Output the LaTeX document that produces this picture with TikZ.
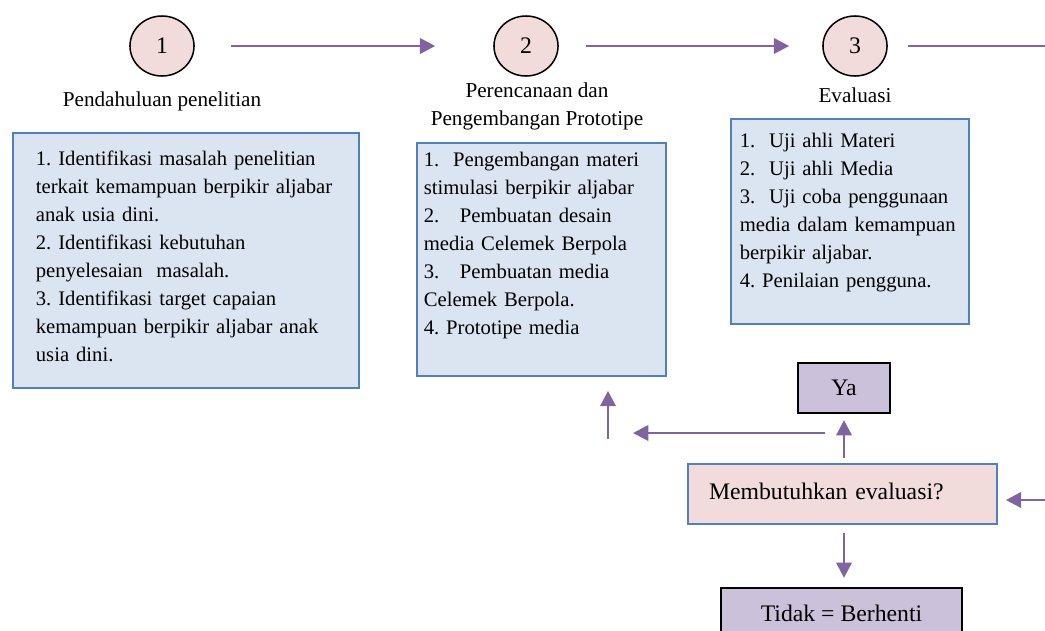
\documentclass[tikz,border=0pt]{standalone}
\usepackage{fontspec}
\setmainfont{Liberation Serif}
\usetikzlibrary{arrows.meta, positioning, calc, shapes.geometric}
\frenchspacing
\definecolor{stagefill}{HTML}{F2DCDB}
\definecolor{panelfill}{HTML}{DBE5F1}
\definecolor{panelborder}{HTML}{4F81BD}
\definecolor{answerfill}{HTML}{CCC1DA}
\definecolor{flowline}{HTML}{8064A2}
\tikzset{
  stage/.style={ellipse, draw=black, fill=stagefill, line width=0.9pt,
                minimum width=37.8pt, minimum height=35.4pt, inner sep=0pt,
                font=\fontsize{14}{16}\selectfont},
  phase/.style={align=center, inner sep=0pt, font=\fontsize{12.5}{16.5}\selectfont},
  panel/.style={rectangle, draw=panelborder, fill=panelfill, line width=1pt,
                align=left, inner ysep=0pt, anchor=north west,
                font=\fontsize{12.2}{16.5}\selectfont},
  ask/.style={rectangle, draw=panelborder, fill=stagefill, line width=1pt,
              align=left, text width=157.5pt, inner xsep=12.4pt, inner ysep=0pt,
              minimum height=35.4pt, text depth=3pt,
              font=\fontsize{14}{16}\selectfont},
  answer/.style={rectangle, draw=black, fill=answerfill, line width=1.4pt,
                 inner sep=0pt, minimum height=29.5pt,
                 font=\fontsize{14}{16}\selectfont},
  flow/.style={-{Triangle[length=9pt, width=9pt]}, line width=1.6pt, draw=flowline},
  link/.style={line width=1.6pt, draw=flowline},
}

\begin{document}
\begin{tikzpicture}[x=0.59pt, y=-0.59pt]

\clip (0,0) rectangle (1045,630);

% Stages along the top
\node[stage] (s1) at (162,46) {1};
\node[stage] (s2) at (526,46) {2};
\node[stage] (s3) at (855,46) {3};

\node[phase, anchor=base] (p1) at (162,106) {Pendahuluan penelitian};
\node[phase] (p2) at (537,106) {Perencanaan dan\\Pengembangan Prototipe};
\node[phase, anchor=base] (p3) at (855,102) {Evaluasi};

% Activities of each stage
\node[panel, text width=177pt, inner xsep=13.6pt,
      text height=19.5pt, text depth=131pt] (intro) at (12,132)
  {1. Identifikasi masalah penelitian\\
   terkait kemampuan berpikir aljabar\\
   anak usia dini.\\
   2. Identifikasi kebutuhan\\
   penyelesaian\ \ masalah.\\
   3. Identifikasi target capaian\\
   kemampuan berpikir aljabar anak\\
   usia dini.};
\node[panel, text width=138.6pt, inner xsep=4.1pt,
      text height=14.2pt, text depth=123.3pt] (plan) at (416,142)
  {1.\ \ Pengembangan materi\\
   stimulasi berpikir aljabar\\
   2.\ \ \ Pembuatan desain\\
   media Celemek Berpola\\
   3.\ \ \ Pembuatan media\\
   Celemek Berpola.\\
   4. Prototipe media};
\node[panel, text width=129.8pt, inner xsep=5.3pt,
      text height=17.1pt, text depth=103.8pt] (evalbox) at (730,118)
  {1.\ \ Uji ahli Materi\\
   2.\ \ Uji ahli Media\\
   3.\ \ Uji coba penggunaan\\
   media dalam kemampuan\\
   berpikir aljabar.\\
   4. Penilaian pengguna.};

% Decision
\node[ask] (need) at (842.5,494) {Membutuhkan evaluasi?};
\node[answer, minimum width=54.3pt] (ya) at (844,388) {Ya};
\node[answer, minimum width=142.2pt] (stop) at (841.5,613) {Tidak = Berhenti};

% Free ends of the loop
\coordinate (exitR) at (1050,46);
\coordinate (entry) at (1050,500);
\coordinate (loopR) at (825,433);
\coordinate (loopL) at (633,433);
\coordinate (rise)  at (608,439);

% Flow
\draw[flow, shorten <=21.2pt, shorten >=34.2pt] (s1) -- (s2);
\draw[flow, shorten <=15.9pt, shorten >=19.5pt] (s2) -- (s3);
\draw[link, shorten <=11.8pt] (s3.east) -- (exitR);
\draw[flow, shorten >=4.7pt] (entry) -- (entry -| need.east);
\draw[flow, shorten <=3pt, shorten >=3.5pt] (need.north -| ya) -- (ya.south);
\draw[flow] (loopR) -- (loopL);
\draw[flow, shorten >=8.3pt] (rise) -- (rise |- plan.south);
\draw[flow, shorten <=4.7pt, shorten >=5.3pt] (need.south -| ya) -- (stop.north -| ya);

\end{tikzpicture}
\end{document}
